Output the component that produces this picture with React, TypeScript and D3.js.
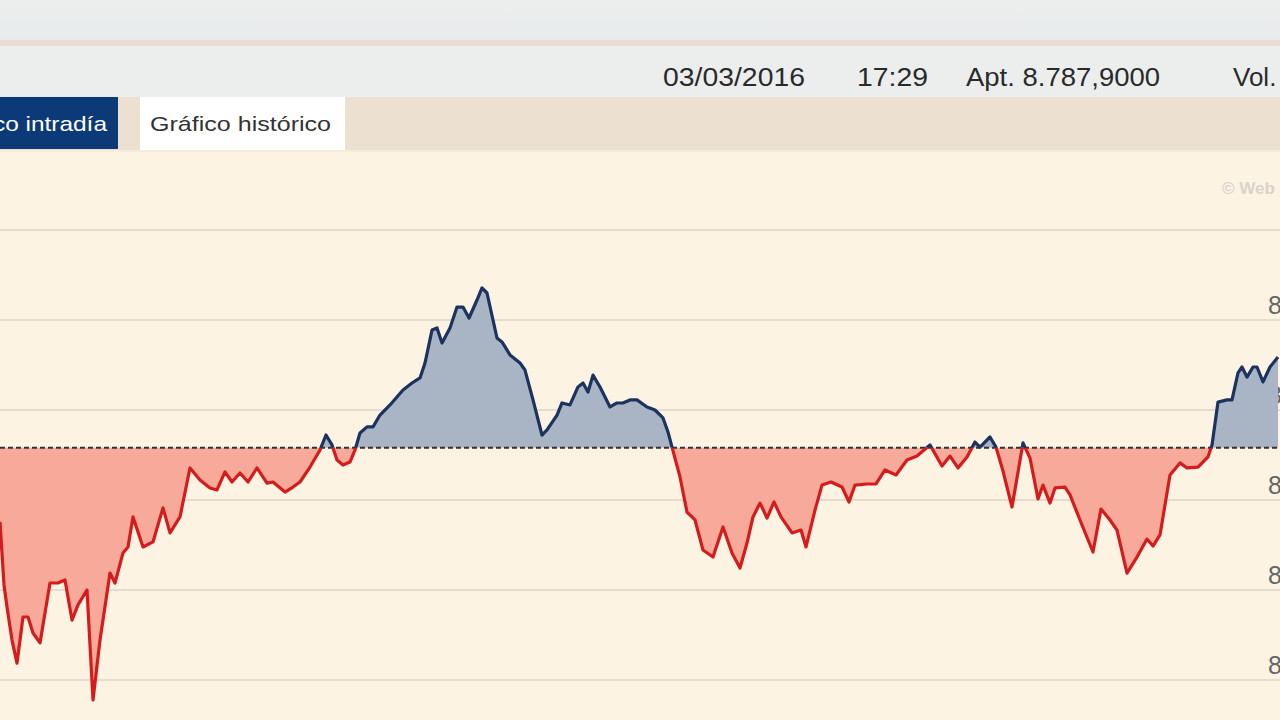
import React from "react";
import * as d3 from "d3";

// minutes after 09:00 (intraday session)
const minutes = [
  0, 1.6, 2.8, 4.8, 6.8, 9.2, 11.2, 13.2, 16, 20, 23.2, 26, 28.8, 31.2, 34.8, 37.2, 40, 44, 46, 49.2,
  51.2, 53.2, 57.2, 61.2, 65.2, 68, 72, 76, 80, 84, 86.8, 90, 92.8, 96, 99.2, 102.8, 106.8, 109.2, 114, 117.2,
  120, 124, 128, 130.4, 132.8, 134.8, 137.2, 140, 142, 144, 146.8, 149.2, 152, 156, 161.2, 164.8, 168, 170, 172.8, 174.8,
  176.8, 180, 182.8, 185.2, 187.6, 190.8, 192.8, 194.8, 198.8, 200.8, 204, 208, 210, 213.2, 216.8, 218.8, 222.8, 224.8, 228, 231.2,
  233.2, 235.2, 237.2, 240, 244, 246.8, 249.2, 252, 254.8, 258.8, 262, 265.2, 267.2, 268.8, 270.4, 272, 274.8, 278, 281.2, 285.2,
  289.2, 292.8, 296, 298.8, 301.2, 304, 306.8, 309.6, 312.4, 316.8, 320.4, 322.4, 326, 328.8, 332.4, 336.8, 339.6, 342, 346.8, 350.4,
  354, 358.4, 362.8, 366.8, 372, 376.8, 380, 383.2, 386.8, 390, 392, 396, 398.4, 401.2, 404.8, 406.8, 409.2, 412, 415.2, 417.2,
  420, 422, 426, 428, 432, 437.2, 440.4, 444, 446.8, 450.8, 454.8, 458.8, 461.2, 464, 468, 472, 474.8, 479.2, 483.2, 484.8,
  487.2, 490.8, 492.8, 495.2, 496.8, 498.8, 501.2, 502.8, 505.2, 508, 511.2,
];

const prices = [
  8737.8, 8702.8, 8690.6, 8672.2, 8659.4, 8685, 8685, 8676.1, 8670.6, 8703.9, 8703.9, 8705.6, 8683.3, 8691.7, 8700, 8638.9, 8672.2, 8709.4, 8703.9, 8720.6,
  8723.9, 8740.6, 8723.9, 8726.7, 8745.6, 8731.7, 8740.6, 8767.8, 8761.1, 8756.7, 8755.6, 8765.6, 8760, 8765, 8760, 8767.8, 8759.4, 8760, 8754.4, 8757.2,
  8760, 8768.3, 8777.8, 8786.1, 8780.6, 8772.2, 8769.4, 8771.1, 8777.8, 8787.2, 8790.6, 8790.6, 8797.2, 8802.8, 8811.1, 8815, 8817.8, 8826.1, 8844.4, 8845.6,
  8837.2, 8845.6, 8857.2, 8857.2, 8851.1, 8861.1, 8867.8, 8865, 8840, 8837.8, 8830.6, 8826.1, 8822.2, 8805.6, 8786.1, 8788.9, 8797.2, 8803.9, 8802.8, 8812.8,
  8815, 8810, 8819.4, 8812.8, 8801.7, 8803.9, 8803.9, 8805.6, 8805.6, 8801.7, 8800, 8795.6, 8787.8, 8779.4, 8771.1, 8762.8, 8743.3, 8738.9, 8722.2, 8718.3,
  8735, 8720.6, 8712.2, 8726.1, 8740.6, 8748.3, 8740, 8748.9, 8740.6, 8731.7, 8733.3, 8723.9, 8744.4, 8758.3, 8760, 8757.2, 8748.9, 8758.3, 8758.9, 8758.9,
  8766.7, 8763.9, 8772.2, 8774.4, 8780.6, 8768.9, 8774.4, 8767.8, 8773.9, 8782.2, 8779.4, 8785, 8779.4, 8766.1, 8746.1, 8762.2, 8781.7, 8773.3, 8750.6, 8758.3,
  8748.3, 8756.7, 8757.2, 8752.8, 8738.9, 8721.1, 8745, 8738.9, 8733.3, 8709.4, 8718.3, 8728.3, 8724.4, 8730.6, 8763.9, 8770.6, 8767.8, 8768.3, 8773.9, 8780.6,
  8804.4, 8805.6, 8805.6, 8820.6, 8823.9, 8818.3, 8823.9, 8823.9, 8815.6, 8823.9, 8829.4,
];

const prevClose = 8779;
const gridValues = [8900, 8850, 8800, 8750, 8700, 8650];
const labelValues = [8850, 8800, 8750, 8700, 8650];
const headerItems = ["03/03/2016", "17:29", "Apt. 8.787,9000", "Vol."];
const tabItems = ["Gráfico intradía", "Gráfico histórico"];

const es = d3.formatLocale({ decimal: ",", thousands: ".", grouping: [3], currency: ["", " €"] });
const fmt = es.format(",.0f");

export default function App() {
  const W = 1280;
  const H = 720;
  const x = d3.scaleLinear().domain([0, 512]).range([0, 1280]);
  const y = d3.scaleLinear().domain([8650, 8900]).range([680, 230]);
  const data = minutes.map((m, i) => ({ m, p: prices[i] }));
  const yRef = y(prevClose);

  const area = d3
    .area<{ m: number; p: number }>()
    .x((d) => x(d.m))
    .y0(yRef)
    .y1((d) => y(d.p));
  const line = d3
    .line<{ m: number; p: number }>()
    .x((d) => x(d.m))
    .y((d) => y(d.p));

  const areaD = area(data) || "";
  const lineD = line(data) || "";

  return (
    <svg
      width={W}
      height={H}
      style={{ position: "absolute", left: 0, top: 0, display: "block" }}
      fontFamily="'Liberation Sans', Arial, sans-serif"
    >
      <defs>
        <clipPath id="above">
          <rect x={0} y={0} width={W} height={yRef} />
        </clipPath>
        <clipPath id="below">
          <rect x={0} y={yRef} width={W} height={H - yRef} />
        </clipPath>
        <linearGradient id="topbg" x1="0" y1="0" x2="0" y2="1">
          <stop offset="0" stopColor="#eceeee" />
          <stop offset="1" stopColor="#e8ebeb" />
        </linearGradient>
      </defs>

      {/* top bands */}
      <rect x={0} y={0} width={W} height={42} fill="url(#topbg)" />
      <rect x={0} y={40} width={W} height={6} fill="#e9dcd6" />
      <rect x={0} y={46} width={W} height={51} fill="#eceeee" />
      {headerItems.map((t, i) => {
        const xs = [663, 857, 966, 1233];
        const lens = [142, 71, 194, 0];
        return (
          <text
            key={t}
            x={xs[i]}
            y={86}
            fontSize={26}
            fill="#2a2a2a"
            {...(lens[i] ? { textLength: lens[i], lengthAdjust: "spacingAndGlyphs" } : {})}
          >
            {t}
          </text>
        );
      })}

      {/* tabs */}
      <rect x={0} y={97} width={W} height={53} fill="#ece1d0" />
      <rect x={-60} y={97} width={178} height={52} fill="#0c3a78" />
      <text x={-60} y={131} fontSize={21} fill="#ffffff" textLength={167} lengthAdjust="spacingAndGlyphs">
        {tabItems[0]}
      </text>
      <rect x={140} y={97} width={205} height={53} fill="#ffffff" />
      <text x={150} y={131} fontSize={21} fill="#333333" textLength={181} lengthAdjust="spacingAndGlyphs">
        {tabItems[1]}
      </text>

      {/* chart background */}
      <rect x={0} y={150} width={W} height={H - 150} fill="#fdf3e3" />
      <rect x={0} y={150} width={W} height={2} fill="#f6ecdc" />
      <text x={1222} y={194} fontSize={17} fontWeight="bold" fill="#d9d4cb">
        © Web
      </text>

      {/* grid */}
      {gridValues.map((v) => (
        <line key={v} x1={0} x2={W} y1={y(v)} y2={y(v)} stroke="#e3dccf" strokeWidth={2} />
      ))}
      {labelValues.map((v) => (
        <text key={v} x={1268} y={y(v) - 6} fontSize={25} fill="#666">
          {fmt(v)}
        </text>
      ))}

      {/* areas */}
      <path d={areaD} fill="#a9b4c4" clipPath="url(#above)" />
      <path d={areaD} fill="#f7a99a" clipPath="url(#below)" />

      {/* reference line */}
      <line x1={0} x2={W} y1={yRef} y2={yRef} stroke="#333" strokeWidth={2} strokeDasharray="5,3" />

      {/* lines */}
      <path d={lineD} fill="none" stroke="#1b335e" strokeWidth={3.2} strokeLinejoin="round" clipPath="url(#above)" />
      <path d={lineD} fill="none" stroke="#d41c1c" strokeWidth={3.2} strokeLinejoin="round" clipPath="url(#below)" />
    </svg>
  );
}
